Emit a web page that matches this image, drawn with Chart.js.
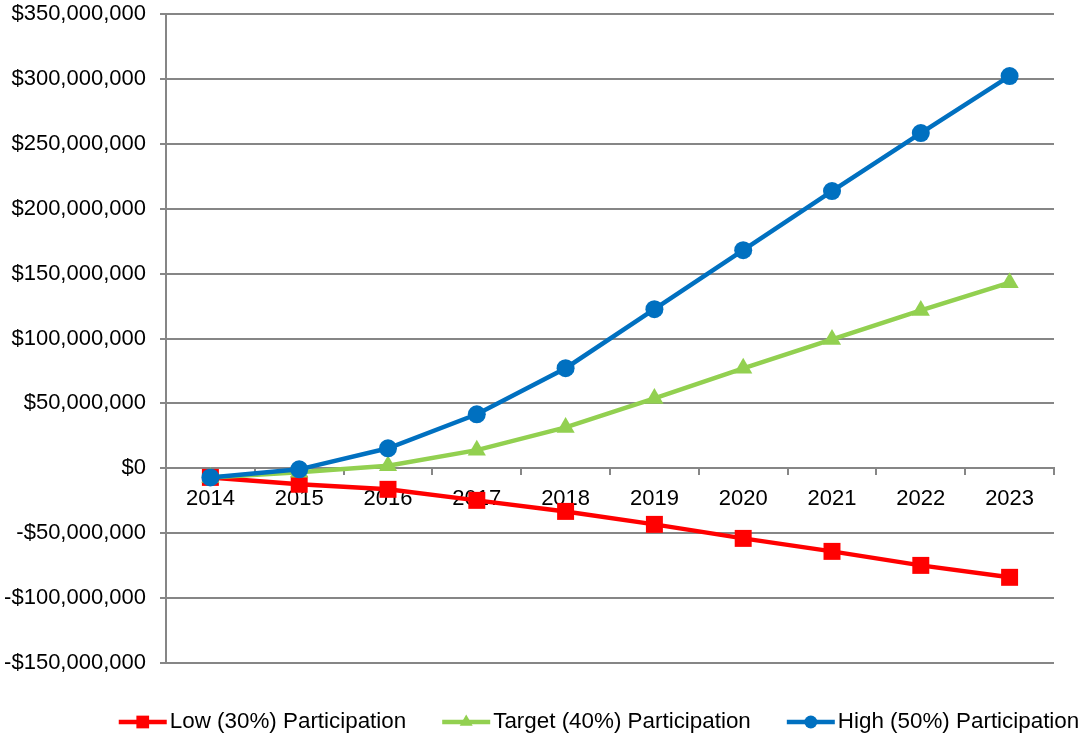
<!DOCTYPE html>
<html>
<head>
<meta charset="utf-8">
<script src="https://cdn.jsdelivr.net/npm/chart.js@4"></script>
<style>
  html, body { margin: 0; padding: 0; background: #fff; }
  #wrap { width: 1083px; height: 735px; }
</style>
</head>
<body>
<div id="wrap"><canvas id="projection"></canvas></div>
<script>
// Data
const years = ["2014", "2015", "2016", "2017", "2018", "2019", "2020", "2021", "2022", "2023"];
const lowValues = [-7e6, -12.3e6, -16.2e6, -24.7e6, -33.2e6, -43.2e6, -54e6, -64e6, -74.8e6, -84e6];
const targetValues = [-7e6, -3e6, 2e6, 14e6, 31.5e6, 53.8e6, 77e6, 99.3e6, 121.6e6, 143e6];
const highValues = [-7e6, -0.8e6, 15.4e6, 41.6e6, 77.1e6, 122.6e6, 168e6, 213.6e6, 258.3e6, 302.2e6];
const seriesLabels = ["Low (30%) Participation", "Target (40%) Participation", "High (50%) Participation"];

const RED = "#ff0000";
const GREEN = "#92d050";
const BLUE = "#0070c0";
const GRID = "#868686";
const FONT = "'Liberation Sans', Arial, sans-serif";

function money(value) {
  const s = "$" + Math.abs(value).toLocaleString("en-US");
  return value < 0 ? "-" + s : s;
}

// Excel style legend: short line with the marker on it, drawn under the plot
const legendRadius = { rect: 9, triangle: 7.5, circle: 6.5 };
const lineLegend = {
  id: "lineLegend",
  afterDraw(chart) {
    const c = chart.ctx;
    const y = 722;
    const iconW = 48;
    const gapText = 3;
    const gapItem = 36;
    c.save();
    c.font = "22.4px " + FONT;
    c.textBaseline = "middle";
    const widths = chart.data.datasets.map(ds => c.measureText(ds.label).width);
    let total = 0;
    widths.forEach(w => (total += iconW + gapText + w));
    total += gapItem * (widths.length - 1);
    let x = 599 - total / 2;
    chart.data.datasets.forEach((ds, i) => {
      c.strokeStyle = ds.borderColor;
      c.fillStyle = ds.borderColor;
      c.lineWidth = 4.5;
      c.beginPath();
      c.moveTo(x, y);
      c.lineTo(x + iconW, y);
      c.stroke();
      Chart.helpers.drawPoint(c, {
        pointStyle: ds.pointStyle,
        radius: legendRadius[ds.pointStyle],
        rotation: 0,
        borderWidth: 0,
      }, x + iconW / 2, y);
      c.fillStyle = "#000";
      c.fillText(ds.label, x + iconW + gapText, y);
      x += iconW + gapText + widths[i] + gapItem;
    });
    c.restore();
  },
};

const ctx = document.getElementById("projection").getContext("2d");
new Chart(ctx, {
  type: "line",
  data: {
    labels: years,
    datasets: [
      {
        label: seriesLabels[0],
        data: lowValues,
        borderColor: RED,
        backgroundColor: RED,
        borderWidth: 4.5,
        pointStyle: "rect",
        pointRadius: 12,
        pointBorderWidth: 0,
        order: 3,
      },
      {
        label: seriesLabels[1],
        data: targetValues,
        borderColor: GREEN,
        backgroundColor: GREEN,
        borderWidth: 4.5,
        pointStyle: "triangle",
        pointRadius: 10.5,
        pointBorderWidth: 0,
        order: 2,
      },
      {
        label: seriesLabels[2],
        data: highValues,
        borderColor: BLUE,
        backgroundColor: BLUE,
        borderWidth: 4.5,
        pointStyle: "circle",
        pointRadius: 9,
        pointBorderWidth: 0,
        order: 1,
      },
    ],
  },
  plugins: [lineLegend],
  options: {
    responsive: true,
    maintainAspectRatio: false,
    animation: false,
    layout: {
      padding: { top: 0, right: 29, left: 4, bottom: 72 },
    },
    plugins: {
      tooltip: { enabled: false },
      legend: { display: false },
    },
    scales: {
      x: {
        position: { y: 0 },
        offset: true,
        grid: {
          drawOnChartArea: false,
          drawTicks: true,
          tickLength: 6,
          offset: true,
          color: GRID,
          lineWidth: 2,
        },
        border: { display: true, color: GRID, width: 2 },
        ticks: {
          color: "#000",
          padding: 11,
          maxRotation: 0,
          font: { family: FONT, size: 22 },
        },
      },
      y: {
        min: -150000000,
        max: 350000000,
        afterFit(scale) {
          scale.width = 162;
          scale.paddingTop = 14;
          scale.paddingBottom = 0;
        },
        ticks: {
          stepSize: 50000000,
          color: "#000",
          padding: 14,
          font: { family: FONT, size: 22 },
          callback: money,
        },
        grid: {
          color: GRID,
          lineWidth: 2,
          tickLength: 6,
        },
        border: { display: true, color: GRID, width: 2 },
      },
    },
  },
});
</script>
</body>
</html>
